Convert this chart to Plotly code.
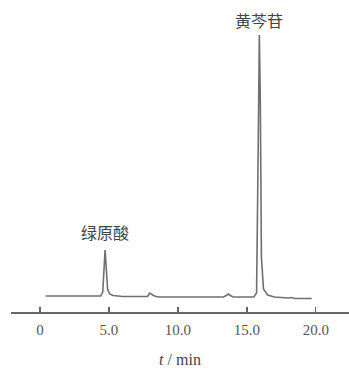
import plotly.graph_objects as go

# Chromatogram points (time in min, signal in arbitrary units)
times = [0.4, 3.0, 3.2, 3.35, 3.5, 4.4, 4.55, 4.65, 4.72, 4.8, 4.9, 5.05, 5.3, 6.0,
         7.8, 7.95, 8.1, 8.3, 8.6, 10.0, 13.3, 13.5, 13.65, 13.8, 14.0, 15.5, 15.7,
         15.82, 15.9, 15.97, 16.05, 16.2, 16.5, 17.0, 17.8, 18.0, 18.2, 18.5, 19.7]
signal = [1, 1, 1, 1.5, 1, 1, 5, 30, 47, 30, 8, 3, 1.5, 0.5,
          0.5, 4, 3, 1, 0, 0, 0, 1.5, 3, 1.5, 0, 0, 4,
          150, 262, 200, 40, 8, 2, 0, -1, -1, -0.5, -1.5, -1.5]

peak_names = ["绿原酸", "黄芩苷"]
peak_times = [4.72, 15.9]
peak_heights = [47, 262]

tick_vals = [0, 5, 10, 15, 20]
tick_text = ["0", "5.0", "10.0", "15.0", "20.0"]

fig = go.Figure()
fig.add_trace(go.Scatter(x=times, y=signal, mode="lines",
                         line=dict(color="#707070", width=1.6), hoverinfo="skip"))

for name, t, h, ys in zip(peak_names, peak_times, peak_heights, [4, 1]):
    fig.add_annotation(x=t, y=h, text=name, showarrow=False, yanchor="bottom",
                       yshift=ys, font=dict(family="Noto Sans CJK SC", size=16, color="#444"))

fig.update_layout(
    width=349, height=368,
    margin=dict(l=11, r=0, t=10, b=56),
    paper_bgcolor="white", plot_bgcolor="white",
    showlegend=False,
    xaxis=dict(range=[-2.1, 22.4], tickvals=tick_vals, ticktext=tick_text,
               ticks="inside", ticklen=5, tickwidth=1.2, tickcolor="#666",
               showline=True, linecolor="#666", linewidth=1.5,
               showgrid=False, zeroline=False, ticklabelstandoff=3,
               tickfont=dict(family="Liberation Serif", size=15, color="#555"),
               title=dict(text="<i>t</i> / min", standoff=18,
                          font=dict(family="Liberation Serif", size=16, color="#444"))),
    yaxis=dict(range=[-15, 287], visible=False, showgrid=False, zeroline=False),
)

fig.write_html("out.html", config={"displayModeBar": False, "staticPlot": True},
               post_script="document.body.style.margin='0';document.body.style.overflow='hidden';")
